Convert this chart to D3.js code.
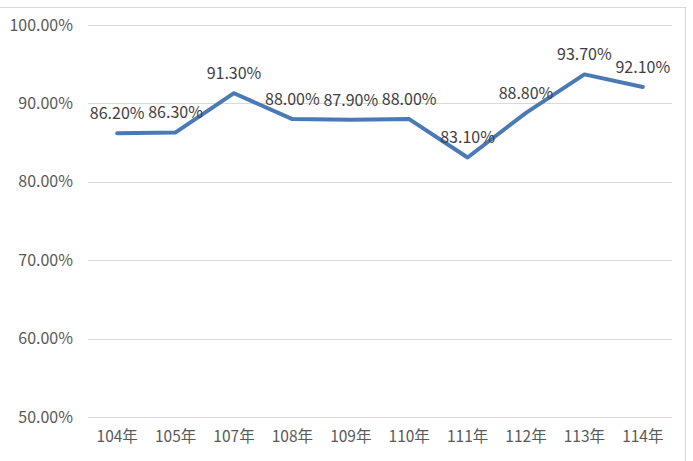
<!DOCTYPE html>
<html><head><meta charset="utf-8">
<script src="https://cdn.jsdelivr.net/npm/d3@7"></script>
<style>body{margin:0;background:#fff}svg{display:block}</style>
</head><body>
<script>
const categories = ["104年","105年","107年","108年","109年","110年","111年","112年","113年","114年"];
const values = [86.2, 86.3, 91.3, 88.0, 87.9, 88.0, 83.1, 88.8, 93.7, 92.1];
const yTicks = [50, 60, 70, 80, 90, 100];

const W = 693, H = 461;
const svg = d3.select("body").append("svg").attr("width", W).attr("height", H);
const font = "'Noto Sans CJK TC','Noto Sans',sans-serif";

svg.append("rect").attr("x", -1).attr("y", 7.5).attr("width", 686.5).attr("height", 460)
  .attr("fill", "none").attr("stroke", "#d9d9d9");

const x = d3.scaleBand().domain(categories).range([88, 672]);
const y = d3.scaleLinear().domain([50, 100]).range([417, 25]);

svg.append("g").selectAll("line").data(yTicks).join("line")
  .attr("x1", 88).attr("x2", 672)
  .attr("y1", d => Math.round(y(d)) + 0.5).attr("y2", d => Math.round(y(d)) + 0.5)
  .attr("stroke", "#d9d9d9").attr("stroke-width", 1);

const yAxis = svg.append("g").attr("transform", "translate(73,0)")
  .call(d3.axisLeft(y).tickValues(yTicks).tickFormat(d => d.toFixed(2) + "%").tickSize(0).tickPadding(0));
yAxis.select(".domain").remove();
yAxis.selectAll("text").attr("font-family", font).attr("font-size", 16).attr("fill", "#595959");

const xAxis = svg.append("g").attr("transform", "translate(0,417)")
  .call(d3.axisBottom(x).tickSize(0).tickPadding(14));
xAxis.select(".domain").remove();
xAxis.selectAll("text").attr("font-family", font).attr("font-size", 15.5).attr("fill", "#595959");

const cx = d => x(d) + x.bandwidth() / 2;
svg.append("path").datum(values)
  .attr("d", d3.line().x((d, i) => cx(categories[i])).y(d => y(d)))
  .attr("fill", "none").attr("stroke", "#4a7ab4").attr("stroke-width", 4)
  .attr("stroke-linejoin", "round").attr("stroke-linecap", "round");

svg.append("g").selectAll("text").data(values).join("text")
  .attr("x", (d, i) => cx(categories[i]))
  .attr("y", d => y(d) - 14)
  .attr("text-anchor", "middle")
  .attr("font-family", font).attr("font-size", 16).attr("fill", "#404040")
  .text(d => d.toFixed(2) + "%");
</script>
</body></html>
